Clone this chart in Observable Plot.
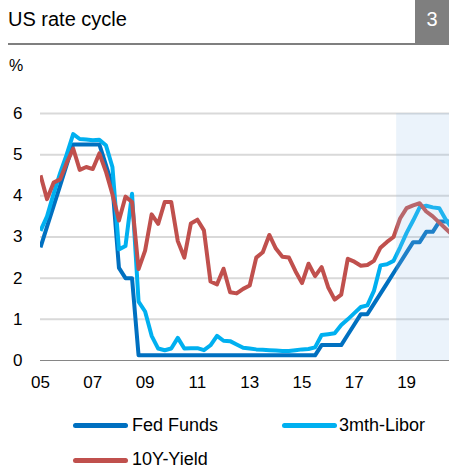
<!DOCTYPE html>
<html>
<head>
<meta charset="utf-8">
<script src="https://cdn.jsdelivr.net/npm/d3@7"></script>
<script src="https://cdn.jsdelivr.net/npm/@observablehq/plot@0.6"></script>
<style>
  html, body { margin: 0; padding: 0; background: #fff; }
  body { width: 449px; height: 468px; position: relative; overflow: hidden; font-family: "Liberation Sans", Arial, sans-serif; color: #000; }
  .abs { position: absolute; white-space: nowrap; }
  #title { left: 8px; top: 7px; font-size: 20px; line-height: 24px; }
  #rule { left: 8px; top: 43px; width: 408px; height: 2px; background: #7f7f7f; }
  #num { left: 415px; top: 0px; width: 34px; height: 45px; background: #7f7f7f; color: #fff; font-size: 20px; line-height: 24px; text-align: center; padding-top: 7px; box-sizing: border-box; }
  #unit { left: 9px; top: 56px; font-size: 16px; line-height: 20px; }
  #chart { left: 0; top: 90px; }
  .leg-line { position: absolute; height: 5px; border-radius: 3px; }
  .leg-text { position: absolute; font-size: 18px; line-height: 20px; }
</style>
</head>
<body>
<div id="title" class="abs">US rate cycle</div>
<div id="rule" class="abs"></div>
<div id="num" class="abs">3</div>
<div id="unit" class="abs">%</div>
<div id="chart" class="abs"></div>
<div id="legend"></div>
<script>
// Quarterly observations (end of quarter), 2005 Q1 .. 2020 Q4
const quarters = [
  2005.00, 2005.25, 2005.50, 2005.75,
  2006.00, 2006.25, 2006.50, 2006.75,
  2007.00, 2007.25, 2007.50, 2007.75,
  2008.00, 2008.25, 2008.50, 2008.75,
  2009.00, 2009.25, 2009.50, 2009.75,
  2010.00, 2010.25, 2010.50, 2010.75,
  2011.00, 2011.25, 2011.50, 2011.75,
  2012.00, 2012.25, 2012.50, 2012.75,
  2013.00, 2013.25, 2013.50, 2013.75,
  2014.00, 2014.25, 2014.50, 2014.75,
  2015.00, 2015.25, 2015.50, 2015.75,
  2016.00, 2016.25, 2016.50, 2016.75,
  2017.00, 2017.25, 2017.50, 2017.75,
  2018.00, 2018.25, 2018.50, 2018.75,
  2019.00, 2019.25, 2019.50, 2019.75,
  2020.00, 2020.25, 2020.50, 2020.75
];
const fedFunds = [
  2.75, 3.25, 3.75, 4.25,
  4.75, 5.25, 5.25, 5.25,
  5.25, 5.25, 4.75, 4.25,
  2.25, 2.00, 2.00, 0.125,
  0.125, 0.125, 0.125, 0.125,
  0.125, 0.125, 0.125, 0.125,
  0.125, 0.125, 0.125, 0.125,
  0.125, 0.125, 0.125, 0.125,
  0.125, 0.125, 0.125, 0.125,
  0.125, 0.125, 0.125, 0.125,
  0.125, 0.125, 0.125, 0.375,
  0.375, 0.375, 0.375, 0.625,
  0.875, 1.125, 1.125, 1.375,
  1.625, 1.875, 2.125, 2.375,
  2.625, 2.875, 2.875, 3.125,
  3.125, 3.375, 3.375, 3.375
];
const libor3m = [
  3.15, 3.50, 4.05, 4.55,
  5.00, 5.50, 5.38, 5.37,
  5.35, 5.36, 5.23, 4.70,
  2.70, 2.78, 4.05, 1.43,
  1.19, 0.60, 0.29, 0.25,
  0.29, 0.55, 0.29, 0.30,
  0.30, 0.25, 0.37, 0.60,
  0.48, 0.47, 0.39, 0.31,
  0.29, 0.27, 0.26, 0.25,
  0.24, 0.23, 0.23, 0.25,
  0.27, 0.28, 0.32, 0.62,
  0.64, 0.66, 0.86, 1.00,
  1.15, 1.30, 1.34, 1.69,
  2.31, 2.34, 2.42, 2.75,
  3.10, 3.40, 3.72, 3.76,
  3.72, 3.70, 3.42, 3.20
];
const yield10y = [
  4.50, 3.92, 4.32, 4.40,
  4.80, 5.15, 4.63, 4.70,
  4.65, 5.03, 4.59, 4.04,
  3.40, 3.98, 3.85, 2.22,
  2.67, 3.55, 3.32, 3.85,
  3.85, 2.90, 2.50, 3.33,
  3.42, 3.16, 1.92, 1.85,
  2.23, 1.66, 1.63, 1.74,
  1.82, 2.50, 2.63, 3.05,
  2.72, 2.52, 2.50, 2.17,
  1.88, 2.35, 2.05, 2.27,
  1.78, 1.48, 1.60, 2.47,
  2.40, 2.30, 2.32, 2.42,
  2.74, 2.88, 3.00, 3.45,
  3.70, 3.77, 3.82, 3.62,
  3.50, 3.35, 3.20, 3.05
];
const seriesNames = ["Fed Funds", "3mth-Libor", "10Y-Yield"];
const seriesColors = ["#0070C0", "#00B0F0", "#C0504D"];
const xTicks = [2005, 2007, 2009, 2011, 2013, 2015, 2017, 2019];
const xTickLabels = ["05", "07", "09", "11", "13", "15", "17", "19"];
const yTicks = [0, 1, 2, 3, 4, 5, 6];
const yTickLabels = ["0", "1", "2", "3", "4", "5", "6"];
const xDomain = [2005, 2020.64];
const forecastStart = 2018.62;

const seriesValues = [fedFunds, libor3m, yield10y];
const rows = [];
seriesNames.forEach((name, s) => {
  quarters.forEach((q, i) => rows.push({series: name, t: q, v: seriesValues[s][i]}));
});
const shade = [{x1: forecastStart, x2: xDomain[1], y1: yTicks[0], y2: yTicks[yTicks.length - 1]}];

const chart = Plot.plot({
  width: 449,
  height: 310,
  marginLeft: 40,
  marginRight: 0,
  marginTop: 23,
  marginBottom: 40,
  style: {fontFamily: "'Liberation Sans', Arial, sans-serif", fontSize: "17px", color: "#000", background: "transparent", overflow: "visible"},
  x: {domain: xDomain},
  y: {domain: [0, 6]},
  color: {domain: seriesNames, range: seriesColors},
  marks: [
    Plot.ruleY(yTicks.slice(1), {stroke: "#d9d9d9", strokeWidth: 2}),
    Plot.ruleY([0], {stroke: "#868686", strokeWidth: 1}),
    Plot.line(rows, {x: "t", y: "v", z: "series", stroke: "series", strokeWidth: 4, strokeLinejoin: "round", strokeLinecap: "butt", clip: true}),
    Plot.rect(shade, {x1: "x1", x2: "x2", y1: "y1", y2: "y2", fill: "#9bc3eb", fillOpacity: 0.2}),
    Plot.axisX({ticks: xTicks, tickSize: 0, tickPadding: 15, tickFormat: d => xTickLabels[xTicks.indexOf(d)], fontSize: 17, label: null}),
    Plot.axisY({ticks: yTicks, tickSize: 0, tickPadding: 18, tickFormat: d => yTickLabels[yTicks.indexOf(d)], fontSize: 17, label: null})
  ]
});
document.getElementById("chart").appendChild(chart);

// Legend
const legendPos = [
  {lx: 73, ly: 423, tx: 132, ty: 415},
  {lx: 282, ly: 423, tx: 339, ty: 415},
  {lx: 73, ly: 458, tx: 132, ty: 449}
];
const legend = document.getElementById("legend");
seriesNames.forEach((name, i) => {
  const p = legendPos[i];
  const line = document.createElement("div");
  line.className = "leg-line";
  line.style.left = p.lx + "px";
  line.style.top = p.ly + "px";
  line.style.width = "55px";
  line.style.background = seriesColors[i];
  legend.appendChild(line);
  const t = document.createElement("div");
  t.className = "leg-text";
  t.style.left = p.tx + "px";
  t.style.top = p.ty + "px";
  t.textContent = name;
  legend.appendChild(t);
});
</script>
</body>
</html>
